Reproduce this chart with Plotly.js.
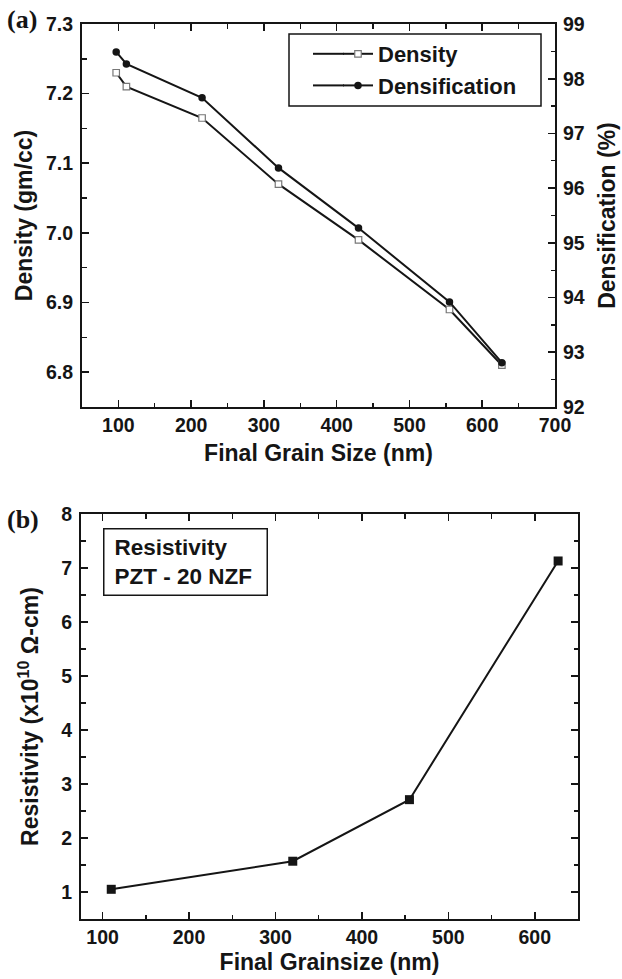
<!DOCTYPE html>
<html>
<head>
<meta charset="utf-8">
<script src="https://cdn.plot.ly/plotly-3.0.1.min.js"></script>
<style>
  html, body { margin: 0; padding: 0; background: #fff; }
  #chart { width: 622px; height: 979px; }
</style>
</head>
<body>
<div id="chart"></div>
<script>
// ---- Data ----
const grainSizeA = [97, 111, 215, 320, 430, 555, 627];           // nm
const densityVals = [7.23, 7.21, 7.165, 7.07, 6.99, 6.89, 6.81];   // gm/cc
const densificationVals = [98.49, 98.27, 97.65, 96.37, 95.27, 93.92, 92.81]; // %

const grainSizeB = [110, 320, 455, 627];                          // nm
const resistivityVals = [1.05, 1.57, 2.71, 7.13];                 // x10^10 ohm-cm

const ticksXA = [100, 200, 300, 400, 500, 600, 700];
const ticksYA = [6.8, 6.9, 7.0, 7.1, 7.2, 7.3];
const ticksY2A = [92, 93, 94, 95, 96, 97, 98, 99];
const ticksXB = [100, 200, 300, 400, 500, 600];
const ticksYB = [1, 2, 3, 4, 5, 6, 7, 8];

// ---- Styling ----
const W = 622, H = 979;
const FONT = 'Liberation Sans, Arial, Helvetica, sans-serif';
const ink = '#151515';
const tickFont = { family: FONT, size: 19.5, color: ink, weight: 'bold' };
const titleFont = { family: FONT, size: 23, color: ink, weight: 'bold' };

function px2x(p) { return p / W; }
function py2y(p) { return 1 - p / H; }

const axisCommon = {
  showgrid: false, zeroline: false,
  showline: true, linecolor: ink, linewidth: 2,
  ticks: 'inside', ticklen: 7, tickwidth: 1.6, tickcolor: ink,
  tickfont: tickFont,
  automargin: false, fixedrange: true
};
const minorStyle = { ticks: 'inside', ticklen: 4.5, tickwidth: 1.4, tickcolor: ink };

const traces = [
  {
    x: grainSizeA, y: densityVals, name: 'Density',
    type: 'scatter', mode: 'lines+markers',
    xaxis: 'x', yaxis: 'y',
    line: { color: ink, width: 2 },
    marker: { symbol: 'square', size: 6.5, color: '#ffffff', line: { color: '#777', width: 1.2 } }
  },
  {
    x: grainSizeA, y: densificationVals, name: 'Densification',
    type: 'scatter', mode: 'lines+markers',
    xaxis: 'x', yaxis: 'y2',
    line: { color: ink, width: 2 },
    marker: { symbol: 'circle', size: 7.5, color: ink }
  },
  {
    x: grainSizeB, y: resistivityVals, name: 'Resistivity',
    type: 'scatter', mode: 'lines+markers',
    xaxis: 'x2', yaxis: 'y3', showlegend: false,
    line: { color: ink, width: 2 },
    marker: { symbol: 'square', size: 9, color: ink }
  }
];

// legend frame (decoration) like the original
const legendBox = { x0: 289, x1: 541, y0: 34, y1: 106 };
const legendLineStart = 313;

const frameShape = {
  type: 'rect', xref: 'paper', yref: 'paper', layer: 'above',
  x0: px2x(legendBox.x0), x1: px2x(legendBox.x1), y0: py2y(legendBox.y1), y1: py2y(legendBox.y0),
  line: { color: ink, width: 1.5 }, fillcolor: 'rgba(0,0,0,0)'
};

const layout = {
  width: W, height: H,
  margin: { l: 0, r: 0, t: 0, b: 0 },
  paper_bgcolor: '#fff', plot_bgcolor: '#fff',
  font: { family: FONT, color: ink },
  showlegend: true,
  legend: {
    x: px2x(338), y: py2y(33), xanchor: 'left', yanchor: 'top',
    bgcolor: 'rgba(0,0,0,0)', borderwidth: 0,
    font: { family: FONT, size: 22, color: ink, weight: 'bold' },
    tracegroupgap: 0
  },
  shapes: [frameShape],
  // Panel (a)
  xaxis: Object.assign({}, axisCommon, {
    domain: [px2x(82), px2x(555)], anchor: 'y',
    range: [50, 700], tickvals: ticksXA, mirror: 'ticks', ticklabelstandoff: 0,
    minor: Object.assign({ dtick: 50, tick0: 50 }, minorStyle),
    title: { text: 'Final Grain Size (nm)', font: titleFont, standoff: 9 }
  }),
  yaxis: Object.assign({}, axisCommon, {
    domain: [py2y(407), py2y(24)], anchor: 'x', ticklabelstandoff: 3,
    range: [6.75, 7.3], tickvals: ticksYA, ticktext: ticksYA.map(v => v.toFixed(1)),
    minor: Object.assign({ dtick: 0.05, tick0: 6.75 }, minorStyle),
    title: { text: 'Density (gm/cc)', font: titleFont, standoff: 7 }
  }),
  yaxis2: Object.assign({}, axisCommon, {
    domain: [py2y(407), py2y(24)], anchor: 'x', overlaying: 'y', side: 'right', ticklabelstandoff: 2,
    range: [92, 99], tickvals: ticksY2A,
    minor: Object.assign({ dtick: 0.5, tick0: 92 }, minorStyle),
    title: { text: 'Densification (%)', font: titleFont, standoff: 15 }
  }),
  // Panel (b)
  xaxis2: Object.assign({}, axisCommon, {
    domain: [px2x(81), px2x(578)], anchor: 'y3',
    range: [75, 650], tickvals: ticksXB, mirror: 'ticks', ticklabelstandoff: 0,
    minor: Object.assign({ dtick: 50, tick0: 50 }, minorStyle),
    title: { text: 'Final Grainsize (nm)', font: titleFont, standoff: 6 }
  }),
  yaxis3: Object.assign({}, axisCommon, {
    domain: [py2y(919), py2y(514)], anchor: 'x2', mirror: 'ticks', ticklabelstandoff: 3,
    range: [0.5, 8], tickvals: ticksYB,
    minor: Object.assign({ dtick: 0.5, tick0: 0.5 }, minorStyle),
    title: { text: 'Resistivity (x10<sup>10</sup> Ω-cm)', font: titleFont, standoff: 16 }
  }),
  annotations: [
    {
      xref: 'paper', yref: 'paper', x: px2x(5), y: py2y(20),
      xanchor: 'left', yanchor: 'middle', showarrow: false,
      text: '(a)', font: { family: 'Liberation Serif, Times New Roman, serif', size: 26, color: ink, weight: 'bold' }
    },
    {
      xref: 'paper', yref: 'paper', x: px2x(5), y: py2y(519),
      xanchor: 'left', yanchor: 'middle', showarrow: false,
      text: '(b)', font: { family: 'Liberation Serif, Times New Roman, serif', size: 26, color: ink, weight: 'bold' }
    },
    {
      xref: 'paper', yref: 'paper', x: px2x(103), y: py2y(528),
      xanchor: 'left', yanchor: 'top', showarrow: false, align: 'left',
      text: 'Resistivity<br>PZT - 20 NZF',
      width: 142, height: 45,
      font: { family: FONT, size: 22.5, color: ink, weight: 'bold' },
      bordercolor: ink, borderwidth: 1.5, borderpad: 10, bgcolor: '#fff'
    }
  ]
};

const gd = document.getElementById('chart');
Plotly.newPlot(gd, traces, layout, { staticPlot: true, displayModeBar: false }).then(() => {
  // extend the legend sample lines leftwards, aligned to the rendered legend rows
  const base = gd.getBoundingClientRect();
  const extra = [];
  gd.querySelectorAll('.legend .traces path.js-line').forEach(p => {
    const r = p.getBoundingClientRect();
    const yc = r.top + r.height / 2 - base.top;
    const xs = r.left - base.left + 1;
    extra.push({
      type: 'line', xref: 'paper', yref: 'paper', layer: 'above',
      x0: px2x(legendLineStart), x1: px2x(xs), y0: py2y(yc), y1: py2y(yc),
      line: { color: ink, width: 2 }
    });
  });
  return Plotly.relayout(gd, { shapes: [frameShape].concat(extra) });
});
</script>
</body>
</html>
